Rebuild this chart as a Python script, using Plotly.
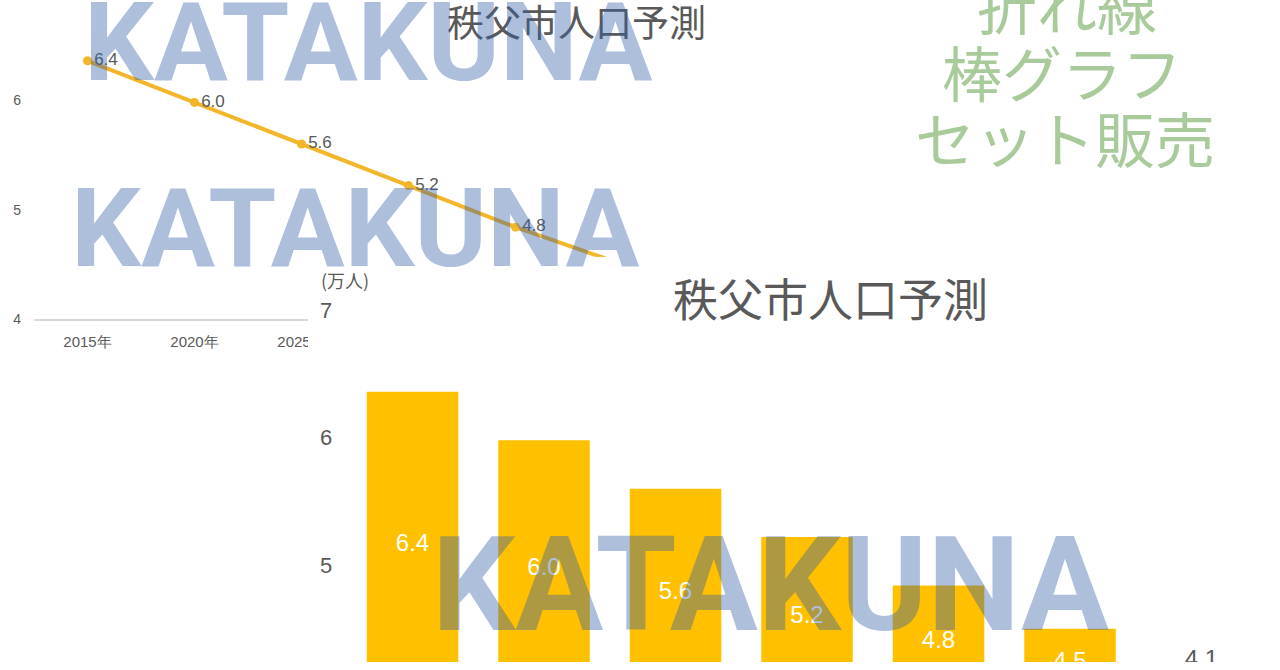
import plotly.graph_objects as go

# ---- data ----
years = ["2015年", "2020年", "2025年", "2030年", "2035年", "2040年", "2045年"]
population = [6.36, 5.98, 5.60, 5.22, 4.84, 4.50, 4.14]   # 万人
chart_title = "秩父市人口予測"
unit_label = "(万人)"
promo_lines = ["折れ線", "棒グラフ", "セット販売"]
watermark = "KATAKUNA"
axis_min = 4
line_ticks = [4, 5, 6]
bar_ticks = [5, 6, 7]

W, H = 1280, 670


def px(x):
    return x / W


def py(y):
    return 1 - y / H


labels = [f"{v:.1f}" for v in population]
GRAY = "#595959"
LATIN = "Liberation Sans, Arial, sans-serif"
CJK = "Noto Sans CJK JP, sans-serif"

fig = go.Figure()

# line chart (top-left)
fig.add_trace(go.Scatter(
    x=years, y=population, xaxis="x", yaxis="y",
    mode="lines+markers+text",
    text=labels, textposition="middle right",
    textfont=dict(family=LATIN, size=17, color=GRAY),
    line=dict(color="#f2b62a", width=4),
    marker=dict(size=9, color="#f2b62a"),
    hoverinfo="skip", showlegend=False,
))

# bar chart (bottom-right)
fig.add_trace(go.Bar(
    x=years, y=[v - axis_min for v in population], base=axis_min,
    xaxis="x2", yaxis="y2",
    marker=dict(color="#ffc000", line=dict(width=0)),
    text=labels, textposition="auto", insidetextanchor="middle",
    insidetextfont=dict(family=LATIN, size=24, color="white"),
    outsidetextfont=dict(family=LATIN, size=24, color=GRAY),
    hoverinfo="skip", showlegend=False,
))

annotations = [
    dict(text=chart_title, x=px(576), y=py(21), font=dict(family=CJK, size=37, color=GRAY)),
    dict(text=chart_title, x=px(830), y=py(301), font=dict(family=CJK, size=45, color=GRAY)),
    dict(text=unit_label, x=px(345), y=py(283), font=dict(family=CJK, size=18, color=GRAY)),
]
for line_text, (cx, cy) in zip(promo_lines, [(1067, 4), (1062, 71), (1065, 138)]):
    annotations.append(dict(text=line_text, x=px(cx), y=py(cy),
                            font=dict(family=CJK, size=60, color="#a9ca9b")))
WM = "rgba(50,95,165,0.40)"
for (cx, cy, s) in [(368, 43, 110), (355, 231, 110), (770, 592, 131)]:
    annotations.append(dict(text=f"<b>{watermark}</b>", x=px(cx), y=py(cy),
                            font=dict(family="Roboto, sans-serif", size=s, color=WM)))
for a in annotations:
    a.update(xref="paper", yref="paper", xanchor="center", yanchor="middle", showarrow=False)

BAR_TOP = 260  # top edge (px) of the bar chart panel, which covers the line chart
fig.update_layout(
    width=W, height=H,
    margin=dict(l=0, r=0, t=0, b=0),
    paper_bgcolor="white", plot_bgcolor="white",
    bargap=0.304,
    showlegend=False,
    annotations=annotations,
    xaxis=dict(domain=[px(34), px(783)], range=[-0.5, 6.5], type="category",
               showline=True, linecolor="#d9d9d9", linewidth=1.5,
               ticks="", showgrid=False, zeroline=False, anchor="y",
               tickfont=dict(family=LATIN, size=15, color=GRAY), ticklabelstandoff=8),
    yaxis=dict(domain=[py(323), 1], range=[4, 4 + 323 / 110.8], tickvals=line_ticks,
               showline=False, showgrid=False, zeroline=False, ticks="", anchor="x",
               tickfont=dict(family=LATIN, size=14, color=GRAY), ticklabelstandoff=12),
    xaxis2=dict(domain=[px(308), 1], range=[-0.795, 6.597], type="category",
                showticklabels=False, showline=False, showgrid=False, zeroline=False,
                ticks="", anchor="y2"),
    yaxis2=dict(domain=[0, py(BAR_TOP)], range=[4.24, 5 + (572 - BAR_TOP) / 129],
                tickvals=bar_ticks,
                ticklabelposition="inside", showline=False, showgrid=False, zeroline=False,
                ticks="", anchor="x2", ticklabelstandoff=9,
                tickfont=dict(family=LATIN, size=22, color=GRAY)),
)

fig.write_html(
    "out.html",
    config={"displayModeBar": False},
    post_script="document.body.style.margin='0px';document.body.style.padding='0px';"
                "document.body.style.overflow='hidden';",
)
